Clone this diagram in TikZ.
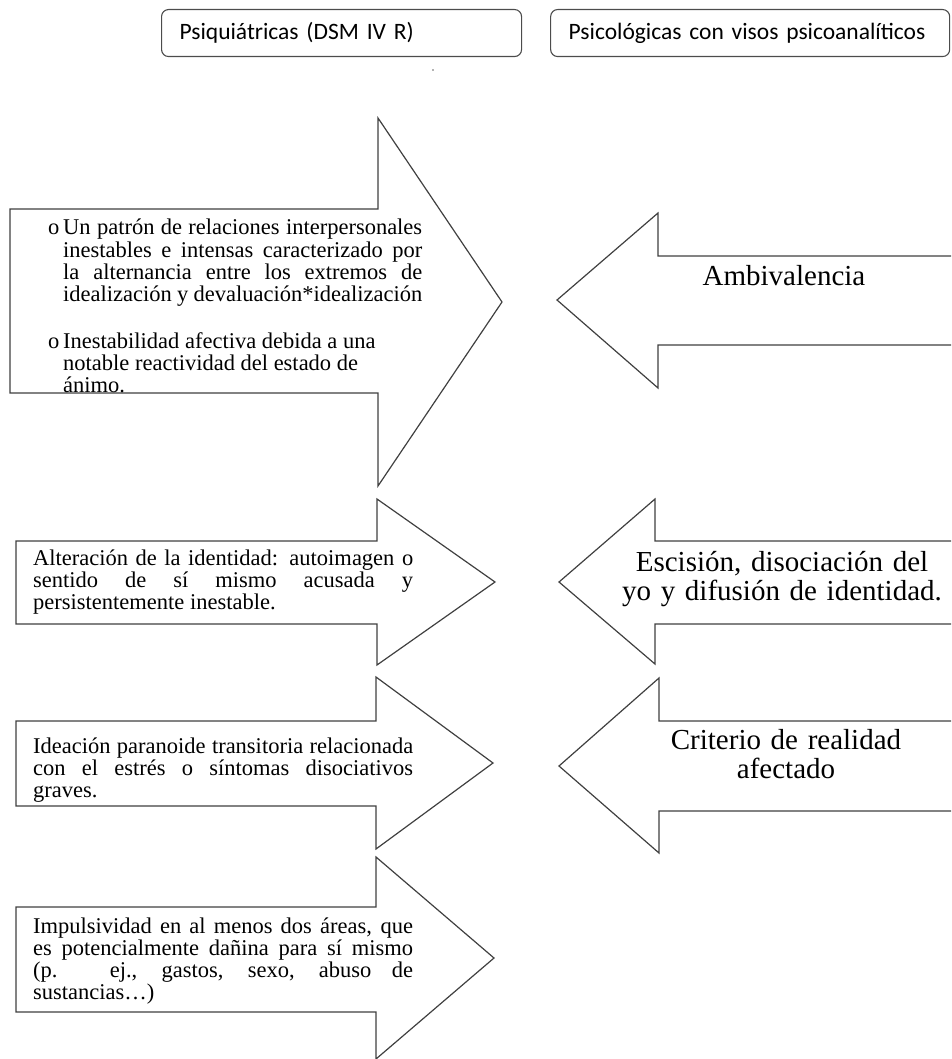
\documentclass[tikz,border=0pt]{standalone}
\usepackage{fontspec}
\setmainfont{Liberation Serif}
\newfontfamily\cabfont{Carlito}
\usetikzlibrary{positioning}

\newcommand{\bala}{\hangindent=15pt\hangafter=1\noindent\makebox[15pt][l]{o}}

\begin{document}
\begin{tikzpicture}[x=1pt,y=-1pt,
    flecha/.style={draw=black!75,line width=1.2pt,fill=white,line join=miter},
    cabecera/.style={draw=black!70,line width=1.1pt,rounded corners=7pt,
      minimum height=47pt,inner xsep=18pt,inner ysep=0pt,anchor=north west,
      text height=17pt,text depth=5pt,align=left,
      font=\cabfont\fontsize{23.5}{28}\selectfont},
    lista/.style={anchor=base west,inner sep=0pt,text width=#1,align=justify,
      font=\fontsize{22.5}{22.3}\selectfont},
    lista/.default=380pt,
    grande/.style={anchor=base,inner sep=0pt,text width=340pt,align=center,
      font=\fontsize{29}{29.5}\selectfont}]
  \useasboundingbox (0,0) rectangle (951,1059);
  \clip (0,0) rectangle (951,1059);

  % cabeceras
  \node[cabecera,text width=324pt] (h_1) at (161,9) {\mbox{Psiquiátricas (DSM IV R)}};
  \node[cabecera,text width=363pt] (h_2) [right=28pt of h_1] {\mbox{Psicológicas con visos psicoanalíticos}};
  \fill[black!60] (433,70) circle (0.9);

  % flechas hacia la derecha
  \draw[flecha] (10,209) -- (378,209) -- (378,118) -- (502,302) -- (378,486) -- (378,393) -- (10,393) -- cycle;
  \draw[flecha] (16,541) -- (377,541) -- (377,499) -- (495,582) -- (377,665) -- (377,624) -- (16,624) -- cycle;
  \draw[flecha] (16,721) -- (376,721) -- (376,677) -- (493,763) -- (376,849) -- (376,806) -- (16,806) -- cycle;
  \draw[flecha] (16,907) -- (376,907) -- (376,857) -- (494,958) -- (376,1059) -- (376,1012) -- (16,1012) -- cycle;

  % flechas hacia la izquierda
  \draw[flecha] (960,256) -- (658,256) -- (658,213) -- (557,300) -- (658,388) -- (658,345) -- (960,345);
  \draw[flecha] (960,541) -- (655,541) -- (655,499) -- (559,582) -- (655,664) -- (655,624) -- (960,624);
  \draw[flecha] (960,721) -- (659,721) -- (659,678) -- (559,766) -- (659,853) -- (659,811) -- (960,811);

  % textos
  \node[lista=374pt] (r_1) at (48,235) {\bala\parfillskip=0pt
    Un patrón de relaciones interpersonales\linebreak
    inestables e intensas caracterizado por\linebreak
    la alternancia entre los extremos de\linebreak
    idealización y devaluación*idealización\par\vspace{24pt}
    \raggedright\parfillskip=0pt plus 1fil
    \noindent\makebox[15pt][l]{o}Inestabilidad afectiva debida a una\newline
    \hspace*{15pt}notable reactividad del estado de\newline
    \hspace*{15pt}ánimo.};
  \node[lista] (r_2) at (33,565) {Alteración de la identidad: autoimagen o\linebreak
    sentido de sí mismo acusada y\linebreak
    persistentemente inestable.};
  \node[lista] (r_3) at (33,753) {Ideación paranoide transitoria relacionada\linebreak
    con el estrés o síntomas disociativos\linebreak
    graves.};
  \node[lista] (r_4) at (33,933) {Impulsividad en al menos dos áreas, que\linebreak
    es potencialmente dañina para sí mismo\linebreak
    (p. ej., gastos, sexo, abuso de\linebreak
    sustancias…)};

  \node[grande] (l_1) at (784,285) {Ambivalencia};
  \node[grande] (l_2) at (782,571) {Escisión, disociación del\\ yo y difusión de identidad.};
  \node[grande] (l_3) at (786,749) {Criterio de realidad\\ afectado};
\end{tikzpicture}
\end{document}
